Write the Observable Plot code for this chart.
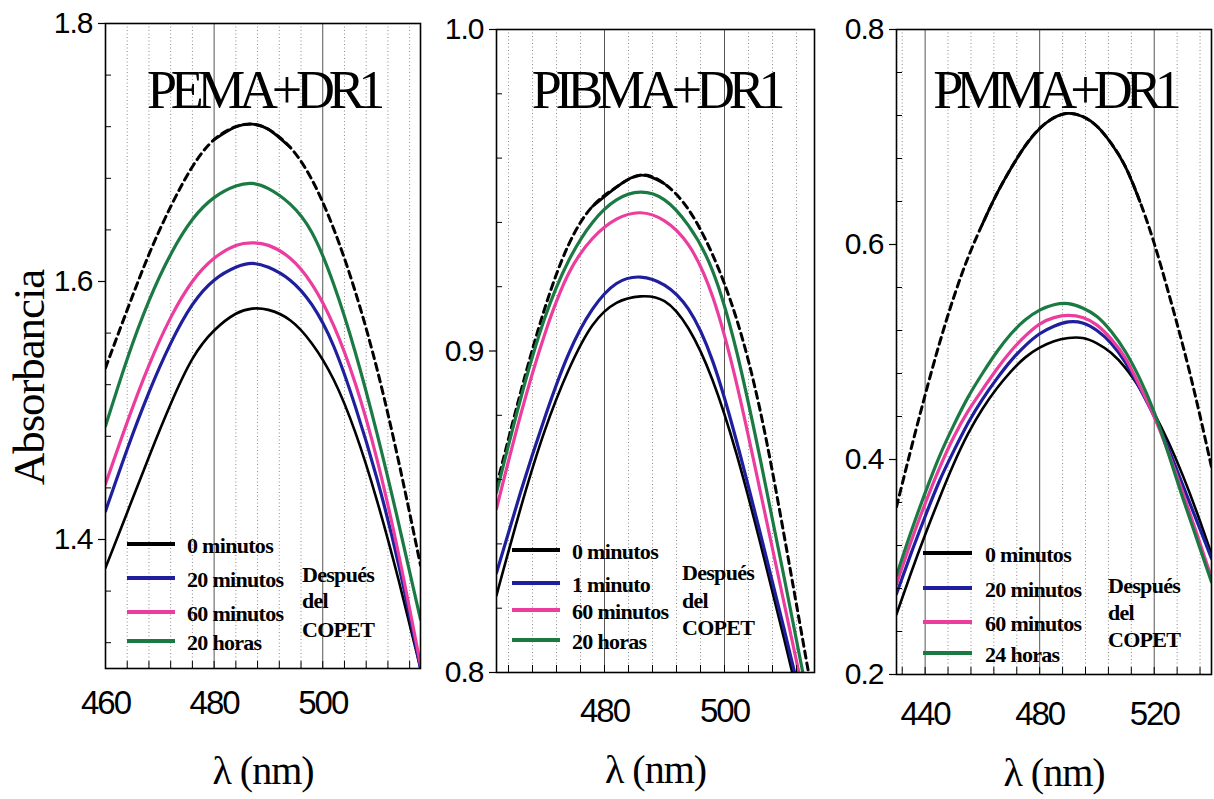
<!DOCTYPE html>
<html>
<head>
<meta charset="utf-8">
<script src="https://cdn.jsdelivr.net/npm/d3@7"></script>
<script src="https://cdn.jsdelivr.net/npm/@observablehq/plot@0.6"></script>
<style>
  body { margin: 0; background: #fff; }
  #chart { position: relative; width: 1214px; height: 799px; overflow: hidden; background: #fff; }
  #chart svg { position: absolute; top: 0; }
  g[aria-label="x-axis tick label"] text { letter-spacing: -2px; }
  g[aria-label="y-axis tick label"] text { letter-spacing: -1px; }
</style>
</head>
<body>
<div id="chart"></div>
<script>
// ---------------- DATA ----------------
const seriesColors = ["#000000", "#1f1f9e", "#ec3d9e", "#1b7a44"];

// PEMA+DR1
const pemaTitle = "PEMA+DR1";
const pemaLegend = ["0 minutos", "20 minutos", "60 minutos", "20 horas"];
const pemaLambda = [460, 464, 468, 472, 476, 480, 484, 487, 490, 494, 498, 502, 506, 510, 514, 518];
const pemaAntes  = [1.533, 1.578, 1.621, 1.658, 1.689, 1.710, 1.720, 1.722, 1.718, 1.704, 1.679, 1.641, 1.592, 1.532, 1.460, 1.380];
const pema0min   = [1.378, 1.421, 1.464, 1.505, 1.540, 1.562, 1.575, 1.579, 1.578, 1.570, 1.552, 1.524, 1.483, 1.430, 1.368, 1.300];
const pema20min  = [1.422, 1.470, 1.514, 1.552, 1.582, 1.601, 1.611, 1.614, 1.611, 1.601, 1.582, 1.550, 1.503, 1.447, 1.380, 1.300];
const pema60min  = [1.443, 1.491, 1.535, 1.572, 1.600, 1.618, 1.628, 1.630, 1.628, 1.618, 1.598, 1.566, 1.521, 1.462, 1.388, 1.303];
const pema20h    = [1.488, 1.540, 1.585, 1.621, 1.648, 1.665, 1.674, 1.676, 1.672, 1.660, 1.638, 1.598, 1.545, 1.482, 1.412, 1.338];
const pemaXTicks = [460, 480, 500];
const pemaYTicks = [1.4, 1.6, 1.8];

// PIBMA+DR1
const pibmaTitle = "PIBMA+DR1";
const pibmaLegend = ["0 minutos", "1 minuto", "60 minutos", "20 horas"];
const pibmaLambda = [462, 466, 470, 474, 478, 482, 486, 490, 494, 498, 502, 506, 510, 514];
const pibmaAntes  = [0.858, 0.887, 0.913, 0.933, 0.945, 0.951, 0.9547, 0.952, 0.944, 0.930, 0.910, 0.881, 0.842, 0.800];
const pibma0min   = [0.824, 0.851, 0.875, 0.894, 0.908, 0.915, 0.917, 0.9155, 0.907, 0.891, 0.868, 0.840, 0.810, 0.779];
const pibma1min   = [0.831, 0.856, 0.879, 0.899, 0.913, 0.921, 0.923, 0.9205, 0.913, 0.897, 0.872, 0.843, 0.813, 0.782];
const pibma60min  = [0.851, 0.880, 0.905, 0.924, 0.935, 0.941, 0.943, 0.9405, 0.933, 0.917, 0.890, 0.856, 0.821, 0.786];
const pibma20h    = [0.856, 0.885, 0.910, 0.928, 0.940, 0.947, 0.9494, 0.947, 0.939, 0.925, 0.900, 0.866, 0.829, 0.791];
const pibmaXTicks = [480, 500];
const pibmaYTicks = [0.8, 0.9, 1.0];

// PMMA+DR1
const pmmaTitle = "PMMA+DR1";
const pmmaLegend = ["0 minutos", "20 minutos", "60 minutos", "24 horas"];
const pmmaLambda = [430, 435, 440, 445, 450, 455, 460, 465, 470, 475, 480, 485, 490, 495, 500, 505, 510, 515, 520, 525, 530, 535, 540];
const pmmaAntes  = [0.356, 0.409, 0.460, 0.508, 0.551, 0.588, 0.619, 0.647, 0.671, 0.692, 0.708, 0.718, 0.722, 0.719, 0.710, 0.694, 0.672, 0.640, 0.601, 0.555, 0.506, 0.452, 0.393];
const pmma0min   = [0.256, 0.294, 0.330, 0.364, 0.396, 0.424, 0.447, 0.466, 0.482, 0.495, 0.504, 0.510, 0.513, 0.513, 0.508, 0.499, 0.485, 0.466, 0.443, 0.416, 0.385, 0.350, 0.312];
const pmma20min  = [0.275, 0.312, 0.347, 0.380, 0.408, 0.434, 0.456, 0.475, 0.492, 0.506, 0.517, 0.524, 0.528, 0.527, 0.520, 0.508, 0.490, 0.466, 0.440, 0.410, 0.376, 0.342, 0.308];
const pmma60min  = [0.284, 0.323, 0.359, 0.392, 0.421, 0.445, 0.465, 0.484, 0.501, 0.515, 0.526, 0.532, 0.534, 0.532, 0.525, 0.512, 0.494, 0.468, 0.440, 0.406, 0.369, 0.330, 0.290];
const pmma24h    = [0.292, 0.332, 0.369, 0.403, 0.432, 0.458, 0.480, 0.500, 0.517, 0.530, 0.539, 0.544, 0.545, 0.541, 0.533, 0.519, 0.500, 0.475, 0.444, 0.405, 0.364, 0.325, 0.286];
const pmmaXTicks = [440, 480, 520];
const pmmaYTicks = [0.2, 0.4, 0.6, 0.8];

const xLabelText = "λ (nm)";
const yLabelText = "Absorbancia";
const noteLines = ["Después", "del", "COPET"];

// ---------------- LAYOUT ----------------
const panels = [
  {
    title: pemaTitle, legend: pemaLegend, lambda: pemaLambda,
    antes: pemaAntes, series: [pema0min, pema20min, pema60min, pema20h],
    xTicks: pemaXTicks, yTicks: pemaYTicks,
    xDomain: [460, 518], yDomain: [1.3, 1.8],
    xMinor: d3.range(464, 518, 4), yMinor: d3.range(33, 45).map(k => k * 0.04),
    solidRange: [479, 495],
    left: 0, width: 440, mL: 105, mR: 20, mT: 23, mB: 131,
    xPad: 22, titleDy: 84, titleLS: -6.3, labelDy: 115,
    lg: {x1: 127, x2: 175, tx: 187, rows: [544, 578, 612, 641], nx: 302, ny: [582, 608, 637]},
    yLabel: true
  },
  {
    title: pibmaTitle, legend: pibmaLegend, lambda: pibmaLambda,
    antes: pibmaAntes, series: [pibma0min, pibma1min, pibma60min, pibma20h],
    xTicks: pibmaXTicks, yTicks: pibmaYTicks,
    xDomain: [462, 515], yDomain: [0.8, 1.0],
    xMinor: d3.range(464, 515, 4), yMinor: d3.range(41, 50).map(k => k * 0.02),
    solidRange: [477, 491],
    left: 420, width: 414, mL: 76, mR: 20, mT: 29, mB: 127,
    xPad: 26, titleDy: 78, titleLS: -6.2, labelDy: 110,
    lg: {x1: 92, x2: 140, tx: 152, rows: [550, 583, 610, 640], nx: 262, ny: [580, 608, 635]},
    yLabel: false
  },
  {
    title: pmmaTitle, legend: pmmaLegend, lambda: pmmaLambda,
    antes: pmmaAntes, series: [pmma0min, pmma20min, pmma60min, pmma24h],
    xTicks: pmmaXTicks, yTicks: pmmaYTicks,
    xDomain: [430, 540], yDomain: [0.2, 0.8],
    xMinor: d3.range(432, 540, 8), yMinor: d3.range(6, 20).map(k => k * 0.04),
    solidRange: [459, 516],
    left: 820, width: 394, mL: 76, mR: 3, mT: 29, mB: 125,
    xPad: 27, titleDy: 78, titleLS: -7, labelDy: 111,
    lg: {x1: 103, x2: 152, tx: 165, rows: [553, 588, 622, 653], nx: 288, ny: [593, 620, 647]},
    yLabel: false
  }
];

const H = 799;
const chart = document.getElementById("chart");

function near(list, v) { return list.some(t => Math.abs(t - v) < 1e-6); }

panels.forEach(p => {
  const frameW = p.width - p.mL - p.mR;
  const frameH = H - p.mT - p.mB;
  const antes = p.lambda.map((l, i) => ({lambda: l, A: p.antes[i]}));
  const antesTop = antes.filter(d => d.lambda >= p.solidRange[0] && d.lambda <= p.solidRange[1]);
  const seriesData = p.series.map(vals => p.lambda.map((l, i) => ({lambda: l, A: vals[i]})));
  const xMinor = p.xMinor.filter(v => !near(p.xTicks, v));
  const yMinor = p.yMinor.filter(v => !near(p.yTicks, v));

  const marks = [
    Plot.ruleX(xMinor, {stroke: "#8a8a8a", strokeWidth: 1, strokeDasharray: "1,2.5"}),
    Plot.ruleX(p.xTicks.filter(v => v > p.xDomain[0] && v < p.xDomain[1]), {stroke: "#555", strokeWidth: 1}),
    Plot.line(antes, {x: "lambda", y: "A", stroke: "black", strokeWidth: 3, strokeDasharray: "7,5", curve: "natural", clip: true}),
    Plot.line(antesTop, {x: "lambda", y: "A", stroke: "black", strokeWidth: 2.8, curve: "natural", clip: true}),
    ...seriesData.map((d, i) => Plot.line(d, {x: "lambda", y: "A", stroke: seriesColors[i], strokeWidth: i === 0 ? 2.6 : 3.2, curve: "natural", clip: true})),
    Plot.ruleY(yMinor, {stroke: "black", strokeWidth: 1, insetRight: frameW - 6}),
    Plot.ruleX(p.xMinor, {stroke: "black", strokeWidth: 1, insetTop: frameH - 7}),
    Plot.frame({stroke: "black", strokeWidth: 1.6}),
    Plot.axisY(p.yTicks, {label: null, tickSize: 7, tickPadding: 6, fontSize: 30, tickFormat: d3.format(".1f"), strokeWidth: 1.2}),
    Plot.axisX(p.xTicks, {label: null, tickSize: 0, tickPadding: p.xPad, fontSize: 33, tickFormat: d => String(d)}),
    Plot.text([p.title], {text: d => d, frameAnchor: "top", dy: p.titleDy, lineAnchor: "bottom", fontSize: 54, fontFamily: "Liberation Serif", fill: "black"}),
    Plot.text([xLabelText], {text: d => d, frameAnchor: "bottom", dy: p.labelDy, lineAnchor: "bottom", fontSize: 40, fontFamily: "Liberation Serif", fill: "black"})
  ];
  if (p.yLabel) {
    marks.push(Plot.text([yLabelText], {text: d => d, frameAnchor: "left", dx: 43 - p.mL, dy: 377 - (p.mT + frameH / 2), rotate: -90, textAnchor: "middle", lineAnchor: "bottom", fontSize: 45, fontFamily: "Liberation Serif", fill: "black"}));
  }

  const svgEl = Plot.plot({
    width: p.width, height: H,
    marginLeft: p.mL, marginRight: p.mR, marginTop: p.mT, marginBottom: p.mB,
    x: {domain: p.xDomain, axis: null},
    y: {domain: p.yDomain, axis: null},
    style: {fontFamily: "Liberation Sans", background: "transparent", overflow: "visible", color: "black", maxWidth: "none"},
    marks
  });
  svgEl.style.left = p.left + "px";
  chart.appendChild(svgEl);

  // tight spacing of the serif texts, as in the original
  svgEl.querySelectorAll("text").forEach(t => {
    const s = t.textContent;
    if (s === p.title) t.style.letterSpacing = p.titleLS + "px";
    else if (s === xLabelText) t.style.letterSpacing = "-1px";
    else if (s === yLabelText) t.style.letterSpacing = "-1.1px";
  });

  // legend
  const svg = d3.select(svgEl);
  const g = svg.append("g")
    .attr("font-family", "Liberation Serif").attr("font-weight", "bold").attr("font-size", 22)
    .attr("text-anchor", "start").style("letter-spacing", "-0.7px");
  p.legend.forEach((name, i) => {
    const y = p.lg.rows[i];
    g.append("line").attr("x1", p.lg.x1).attr("x2", p.lg.x2).attr("y1", y).attr("y2", y)
      .attr("stroke", seriesColors[i]).attr("stroke-width", 4);
    g.append("text").attr("x", p.lg.tx).attr("y", y + 9).attr("fill", "black").text(name);
  });
  noteLines.forEach((s, i) => {
    g.append("text").attr("x", p.lg.nx).attr("y", p.lg.ny[i]).attr("fill", "black").text(s);
  });
});
</script>
</body>
</html>
